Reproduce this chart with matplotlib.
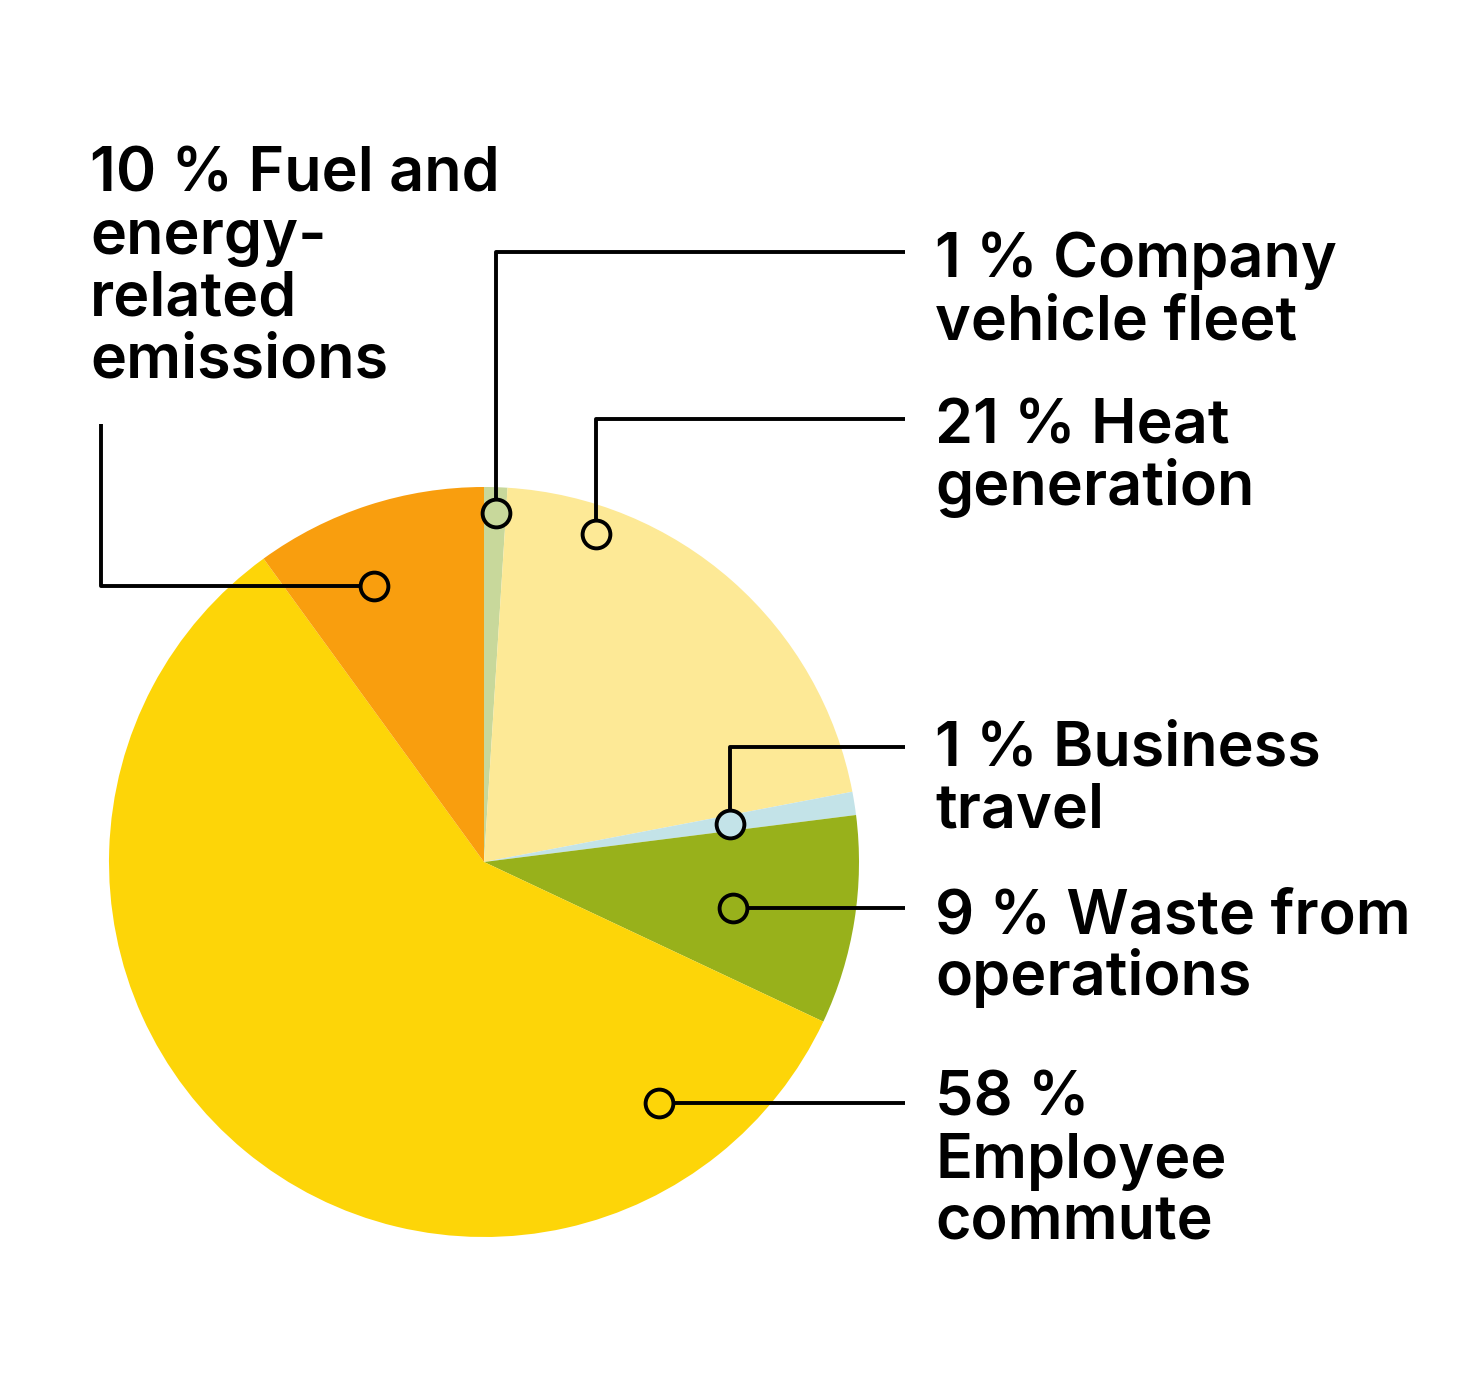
import numpy as np
import matplotlib
matplotlib.use("Agg")
import matplotlib.pyplot as plt

# data, clockwise from 12 o'clock
categories = ["Company vehicle fleet", "Heat generation", "Business travel",
              "Waste from operations", "Employee commute",
              "Fuel and energy-related emissions"]
shares = [1, 21, 1, 9, 58, 10]
colors = ["#c8d89b", "#fde996", "#c3e3e8", "#98b11b", "#fdd508", "#f99e0e"]
labels = ["1 % Company\nvehicle fleet",
          "21 % Heat\ngeneration",
          "1 % Business\ntravel",
          "9 % Waste from\noperations",
          "58 %\nEmployee\ncommute",
          "10 % Fuel and\nenergy-\nrelated\nemissions"]

# layout (pixel space, y grows downwards)
W, H = 1459, 1400
cx, cy, R = 484, 862, 375
# marker anchor: angle clockwise from top (deg), distance from centre (px)
anchors = [(2.0, 349), (18.9, 347), (81.2, 249), (100.5, 253), (144.0, 298), (338.3, 297)]
# leader elbow (None = straight), first baseline of the label
elbows = [252, 419, 747, None, None, None]
text_pos = [(935, 277), (935, 443), (935, 765), (935, 933), (935, 1116), (90, 192)]
line_gap = 62

plt.rcParams["font.family"] = ["Inter", "DejaVu Sans"]

fig = plt.figure(figsize=(W / 100, H / 100), dpi=100)
ax = fig.add_axes([0, 0, 1, 1])

# y axis is inverted, so counterclockwise in data = clockwise on screen
ax.pie(shares, colors=colors, startangle=-90, counterclock=True,
       center=(cx, cy), radius=R, wedgeprops=dict(linewidth=0))
ax.set_xlim(0, W)
ax.set_ylim(H, 0)
ax.axis("off")

line_kw = dict(color="black", lw=2.8, solid_capstyle="butt", zorder=3)
for i, (ang, dist) in enumerate(anchors):
    a = np.deg2rad(ang)
    mx = cx + dist * np.sin(a)
    my = cy - dist * np.cos(a)
    tx, ty = text_pos[i]
    if i == 5:
        # fuel: left then up
        ax.plot([mx, 101, 101], [my, my, 424], **line_kw)
    elif elbows[i] is not None:
        ax.plot([mx, mx, 905], [my, elbows[i], elbows[i]], **line_kw)
    else:
        ax.plot([mx, 905], [my, my], **line_kw)
    ax.plot(mx, my, "o", ms=20, mfc=colors[i], mec="black", mew=2.8, zorder=4)
    for k, row in enumerate(labels[i].split("\n")):
        ax.text(tx, ty + k * line_gap, row, fontsize=44, fontweight="semibold",
                va="baseline", ha="left", color="black")

fig.savefig("out.png", dpi=100, facecolor="white")
